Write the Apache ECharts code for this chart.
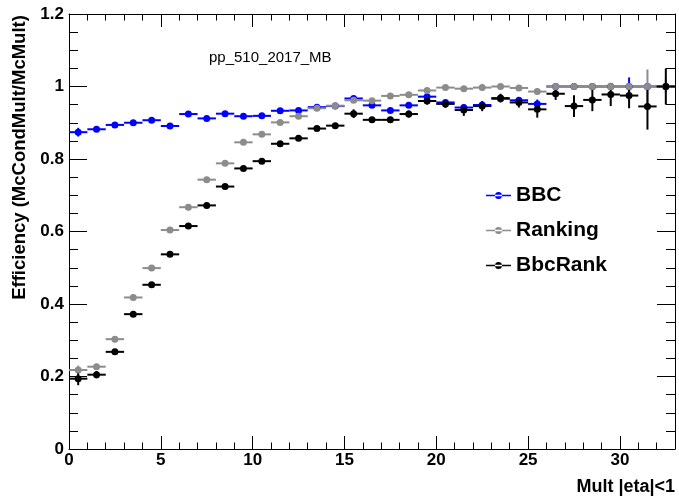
<!DOCTYPE html>
<html>
<head>
<meta charset="utf-8">
<script src="https://cdn.jsdelivr.net/npm/echarts@6/dist/echarts.min.js"></script>
<style>
html,body{margin:0;padding:0;background:#ffffff;}
#chart{width:679px;height:496px;}
</style>
</head>
<body>
<div id="chart"></div>
<script>
// ---- data ----
const binCenters = [0.5,1.5,2.5,3.5,4.5,5.5,6.5,7.5,8.5,9.5,10.5,11.5,12.5,13.5,14.5,15.5,16.5,17.5,18.5,19.5,20.5,21.5,22.5,23.5,24.5,25.5,26.5,27.5,28.5,29.5,30.5,31.5,32.5];
const binWidth = 1;

const bbcEff = [0.874,0.882,0.894,0.900,0.907,0.891,0.924,0.912,0.925,0.918,0.919,0.933,0.934,0.943,0.946,0.967,0.948,0.934,0.948,0.972,0.956,0.942,0.949,0.966,0.962,0.952,1.0,1.0,1.0,1.0,1.0,1.0,1.0];
const bbcErr = [0.012,0.006,0.005,0.005,0.005,0.005,0.005,0.005,0.005,0.005,0.005,0.005,0.005,0.005,0.005,0.005,0.005,0.005,0.006,0.006,0.006,0.006,0.007,0.008,0.009,0.012,0.005,0.005,0.005,0.005,0.025,0.005,0.005];

const rankEff = [0.218,0.227,0.303,0.418,0.499,0.604,0.667,0.743,0.788,0.846,0.868,0.901,0.918,0.940,0.947,0.962,0.961,0.974,0.977,0.989,0.997,0.994,0.997,1.0,0.996,0.986,1.0,1.0,1.0,1.0,1.0,1.0,1.0];
const rankErr = [0.012,0.008,0.005,0.004,0.004,0.004,0.004,0.004,0.004,0.004,0.004,0.004,0.004,0.004,0.004,0.004,0.004,0.004,0.004,0.004,0.004,0.004,0.004,0.005,0.006,0.008,0.004,0.004,0.004,0.004,0.010,0.047,0.020];

const bbcRankEff = [0.194,0.205,0.268,0.372,0.453,0.537,0.615,0.672,0.724,0.774,0.794,0.842,0.857,0.884,0.892,0.925,0.908,0.908,0.924,0.960,0.952,0.935,0.946,0.968,0.956,0.937,0.980,0.946,0.963,0.978,0.975,0.945,1.0];
const bbcRankErr = [0.018,0.010,0.008,0.006,0.006,0.005,0.005,0.005,0.005,0.005,0.005,0.005,0.006,0.006,0.006,0.012,0.008,0.008,0.010,0.010,0.011,0.016,0.014,0.012,0.014,0.023,0.017,0.030,0.031,0.032,0.035,0.064,0.050];

const seriesNames = ['BBC','Ranking','BbcRank'];
const seriesColors = ['#0000ff','#8c8c8c','#000000'];
const xTickValues = [0,5,10,15,20,25,30];
const yTickValues = [0,0.2,0.4,0.6,0.8,1,1.2];
const chartTitle = 'pp_510_2017_MB';
const xTitle = 'Mult |eta|<1';
const yTitle = 'Efficiency (McCondMult/McMult)';

// ---- build ----
const FONT = '"Liberation Sans", Arial, Helvetica, sans-serif';

function pts(eff){ return binCenters.map((x,i)=>[x, eff[i]]); }
function errPts(eff, err){ return binCenters.map((x,i)=>[x, eff[i], err[i]]); }

function errRender(color){
  return function(params, api){
    const x = api.value(0), y = api.value(1), e = api.value(2);
    const L = api.coord([x - binWidth/2, y]);
    const R = api.coord([x + binWidth/2, y]);
    const T = api.coord([x, y + e]);
    const B = api.coord([x, y - e]);
    return {
      type: 'group',
      children: [
        {type:'line', shape:{x1:L[0], y1:L[1], x2:R[0], y2:R[1]}, style:{stroke:color, lineWidth:2}},
        {type:'line', shape:{x1:T[0], y1:T[1], x2:B[0], y2:B[1]}, style:{stroke:color, lineWidth:2}}
      ]
    };
  };
}

const effs = [bbcEff, rankEff, bbcRankEff];
const errs = [bbcErr, rankErr, bbcRankErr];
const series = [];
seriesNames.forEach((name, k) => {
  series.push({
    name: name, type: 'custom', color: seriesColors[k],
    xAxisIndex: 0, yAxisIndex: 0,
    renderItem: errRender(seriesColors[k]),
    data: errPts(effs[k], errs[k]),
    encode: {x: 0, y: 1},
    silent: true
  });
  series.push({
    name: name, type: 'scatter', color: seriesColors[k],
    xAxisIndex: 0, yAxisIndex: 0,
    symbol: 'circle', symbolSize: 7,
    itemStyle: {color: seriesColors[k], opacity: 1},
    data: pts(effs[k])
  });
});

const legendIcon = 'path://M0,3.2 L25,3.2 L25,4.8 L0,4.8 Z M9,4 a3.5,3.5 0 1,0 7,0 a3.5,3.5 0 1,0 -7,0 Z';

function xAxisDef(pos, interval, tickLen, withLabels, withLine){
  const ax = {
    type: 'value', position: pos, min: 0, max: 33, interval: interval,
    axisLine: {show: withLine, onZero: false, lineStyle:{color:'#000', width:1}},
    axisTick: {show: true, inside: true, length: tickLen, lineStyle:{color:'#000', width:1}},
    splitLine: {show: false},
    axisLabel: {show: false}
  };
  if (withLabels){
    ax.axisLabel = {
      show: true, margin: 3, color: '#000', fontFamily: FONT, fontWeight: 'bold', fontSize: 17,
      formatter: v => (xTickValues.indexOf(v) >= 0 ? String(v) : '')
    };
  }
  return ax;
}

function yAxisDef(pos, withLabels){
  const ax = {
    type: 'value', position: pos, min: 0, max: 1.2, interval: 0.2,
    axisLine: {show: true, onZero: false, lineStyle:{color:'#000', width:1}},
    axisTick: {show: true, inside: true, length: 18, lineStyle:{color:'#000', width:1}},
    minorTick: {show: true, splitNumber: 4, length: 9, lineStyle:{color:'#000', width:1}},
    splitLine: {show: false},
    axisLabel: {show: false}
  };
  if (withLabels){
    ax.axisLabel = {
      show: true, margin: 5, color: '#000', fontFamily: FONT, fontWeight: 'bold', fontSize: 17,
      formatter: v => (yTickValues.some(t => Math.abs(t - v) < 1e-9) ? String(+v.toFixed(1)) : '')
    };
    ax.name = yTitle;
    ax.nameLocation = 'middle';
    ax.nameRotate = 90;
    ax.nameGap = 36;
    ax.nameTruncate = {maxWidth: 600};
    ax.nameTextStyle = {color:'#000', fontFamily: FONT, fontWeight:'bold', fontSize: 18.5,
      lineHeight: 19, padding: [0,0,0,148]};
  }
  return ax;
}

const option = {
  animation: false,
  backgroundColor: '#ffffff',
  title: {
    text: chartTitle, left: 204, top: 45,
    textStyle: {color:'#000', fontFamily: FONT, fontWeight:'normal', fontSize: 15}
  },
  legend: {
    orient: 'vertical', left: 481, top: 180,
    itemWidth: 25, itemHeight: 7, itemGap: 14,
    textStyle: {color:'#000', fontFamily: FONT, fontWeight:'bold', fontSize: 21, lineHeight: 21},
    data: seriesNames.map((n,k) => ({name: n, icon: legendIcon, itemStyle:{color: seriesColors[k]}}))
  },
  grid: {left: 69, right: 4, top: 14, bottom: 47, containLabel: false, outerBoundsMode: 'none'},
  xAxis: [
    xAxisDef('bottom', 1, 6.5, true, true),
    xAxisDef('top', 1, 6.5, false, true),
    xAxisDef('bottom', 5, 13, false, false),
    xAxisDef('top', 5, 13, false, false)
  ],
  yAxis: [
    yAxisDef('left', true),
    yAxisDef('right', false)
  ],
  graphic: [{
    type: 'text', right: 4, top: 478,
    style: {text: xTitle, fill: '#000', font: 'bold 18px ' + FONT}
  }],
  series: series
};

const chart = echarts.init(document.getElementById('chart'), null, {renderer: 'canvas'});
chart.setOption(option);
</script>
</body>
</html>
